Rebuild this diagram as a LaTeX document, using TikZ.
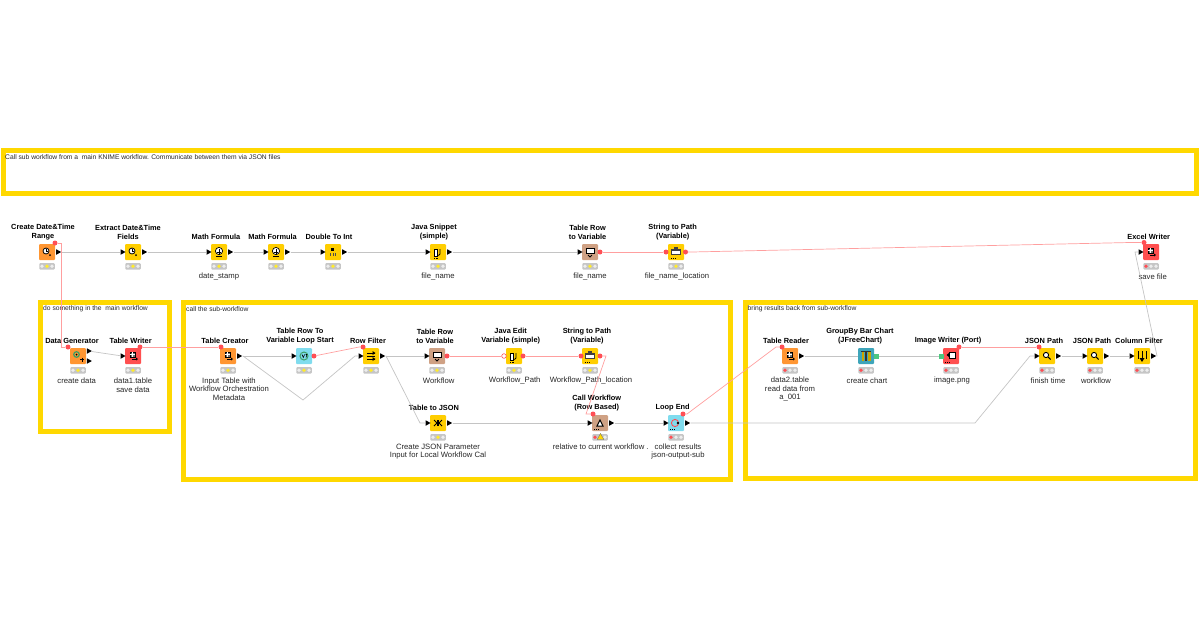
\documentclass[tikz,border=0pt]{standalone}
\usepackage{fontspec}
\setmainfont{Liberation Sans}
\usetikzlibrary{shapes.geometric}
\definecolor{bandcol}{HTML}{FFD800}
\definecolor{srccol}{HTML}{FF9632}
\definecolor{mancol}{HTML}{FFCE00}
\definecolor{sinkcol}{HTML}{FF4F4F}
\definecolor{loopcol}{HTML}{80DCEE}
\definecolor{vizcol}{HTML}{3EA5BA}
\definecolor{flowcol}{HTML}{CFA184}
\definecolor{varcol}{HTML}{FF4F55}
\definecolor{varline}{HTML}{FF9F9F}
\definecolor{wireline}{HTML}{C4C4C4}
\definecolor{lampbar}{HTML}{C6C6C6}
\definecolor{lampoff}{HTML}{EDEDED}
\definecolor{lampyel}{HTML}{FFEB2E}
\definecolor{imgport}{HTML}{4DC77F}
\tikzset{
  band/.style={draw=bandcol,line width=4.6pt,fill=none},
  bandtext/.style={anchor=west,inner sep=0pt,font=\fontsize{6.7}{8}\selectfont,text=black!85},
  kn/.style={minimum size=16pt,inner sep=0pt,rounded corners=1pt},
  src/.style={kn,fill=srccol},
  man/.style={kn,fill=mancol},
  sink/.style={kn,fill=sinkcol},
  lp/.style={kn,fill=loopcol},
  viz/.style={kn,fill=vizcol},
  flw/.style={kn,fill=flowcol},
  title/.style={align=center,inner sep=0pt,font=\fontsize{7.4}{9}\selectfont\bfseries,text=black},
  sub/.style={align=center,inner sep=0pt,font=\fontsize{7.7}{8.7}\selectfont,text=black!85},
  wire/.style={draw=wireline,line width=.7pt},
  varw/.style={draw=varline,line width=.7pt},
  tri/.style={isosceles triangle,isosceles triangle stretches,shape border rotate=0,fill=black,minimum width=5.5pt,minimum height=5pt,inner sep=0pt},
  vport/.style={circle,fill=varcol,minimum size=5pt,inner sep=0pt},
  vopen/.style={circle,draw=varcol,fill=white,line width=.6pt,minimum size=4.6pt,inner sep=0pt},
  iport/.style={fill=imgport,minimum size=5pt,inner sep=0pt},
  lamp/.style={fill=lampbar,minimum width=15.5pt,minimum height=6.4pt,inner sep=0pt,rounded corners=1pt},
  dot/.style={circle,minimum size=3.8pt,inner sep=0pt},
  pics/gmag/.style={code={
    \draw[line width=.9pt,fill=white] (-1,-1) circle (2.6);
    \draw[line width=1pt] (1,1) -- (3.6,3.4);}},
  pics/gclock/.style={code={
    \draw[line width=.8pt,fill=white] (-1,-1) circle (3);
    \draw[line width=.5pt] (-1,-3) -- (-1,-1) -- (.5,-1);
    \fill[black] (3,3) circle (1);}},
  pics/gtbl/.style={code={
    \draw[line width=.5pt,fill=black!55] (-3,-4) rectangle (2,1);
    \draw[white,line width=.4pt] (-.5,-4) -- (-.5,1) (-3,-1.5) -- (2,-1.5);
    \draw[line width=.9pt] (-1,3) -- (3.5,3);
    \fill (3,1.5) -- (5,3) -- (3,4.5) -- cycle;}},
  pics/gform/.style={code={
    \draw[line width=.7pt,fill=white] (0,-1) circle (3.6);
    \draw[line width=.9pt] (-2,0) -- (2,0) (0,-3) -- (0,3);
    \draw[line width=.7pt] (-3,4) -- (3,4);}},
  pics/gbars/.style={code={
    \foreach \yy in {-3,0,3} \draw[line width=.9pt] (-4,\yy) -- (3.5,\yy);
    \fill (1.5,-5) -- (4.5,-3) -- (1.5,-1) -- cycle;
    \fill (1.5,1) -- (4.5,3) -- (1.5,5) -- cycle;}},
  pics/gcode/.style={code={
    \draw[line width=.6pt,fill=white] (-4,-3) rectangle (-.5,4);
    \draw[line width=.9pt] (2,-3) -- (2,2) -- (.5,3.5);
    \foreach \xx in {-4,-2.5,-1} \fill (\xx,5.5) rectangle ++(.8,.8);}},
  pics/gvar/.style={code={
    \draw[line width=.7pt,fill=white] (-4,-4) rectangle (4,1);
    \draw[line width=.8pt] (-2,3) -- (0,5) -- (2,3);}},
  pics/gpath/.style={code={
    \fill[black!75] (-5,-3) rectangle (5,3);
    \fill[white] (-4,-1) rectangle (4,2);
    \fill[black!75] (-2,-5) rectangle (2,-3);
    \foreach \xx in {-5,-3,-1} \fill (\xx,5.5) rectangle ++(1,1);}},
  pics/gdbl/.style={code={
    \fill (-2,-4.5) rectangle (1,-1);
    \fill[black!70] (-3,1) rectangle (-2,4);
    \fill[black!70] (-.5,1) rectangle (.5,4);
    \fill[black!70] (2,1) rectangle (3,4);}},
  pics/gjson/.style={code={
    \draw[line width=1pt] (-4,-3) -- (-1,0) -- (-4,3) (4,-3) -- (1,0) -- (4,3);
    \fill (-1,-3) rectangle (1,3);}},
  pics/gloop/.style={code={
    \draw[varcol,line width=.9pt] (-1,0) circle (3.6);
    \fill (2,0) circle (1.4);
    \foreach \xx in {-6,-4,-2} \fill (\xx,5.5) rectangle ++(1,1);}},
  pics/gstart/.style={code={
    \draw[imgport!80!black,line width=1pt] (0,0) circle (4);
    \draw[line width=.6pt] (-2,-1.5) -- (-.7,1.5) -- (.6,-1.5) (1.5,-1.5) -- (3,-1.5) -- (2,1.5);}},
  pics/ggen/.style={code={
    \draw[imgport!80!black,line width=1.2pt] (-1.5,-1.5) circle (2.8);
    \fill (-1.5,-1.5) circle (1);
    \draw[line width=.9pt] (2,3.5) -- (6,3.5) (4,1.5) -- (4,5.5);}},
  pics/gcall/.style={code={
    \draw[line width=1pt,fill=white] (-3,3) -- (0,-3) -- (3,3) -- cycle;
    \foreach \xx in {-6,-4,-2} \fill (\xx,5.5) rectangle ++(1,1);}},
  pics/gchart/.style={code={
    \fill[black!80] (-5,-5) rectangle (5,-4);
    \fill[mancol!80!black] (-4.5,-4) rectangle (-2,5);
    \fill[black!80] (-1.2,-4) rectangle (1.2,5);
    \fill[mancol!80!black] (2,-4) rectangle (4.5,5);}},
  pics/gimg/.style={code={
    \draw[line width=.7pt,fill=white] (-2,-4) rectangle (4,2);
    \fill (-4.5,-1) -- (-2,-3) -- (-2,1) -- cycle;
    \foreach \xx in {-6,-4,-2} \fill (\xx,5.5) rectangle ++(1,1);}},
  pics/gfilter/.style={code={
    \draw[line width=.8pt] (-4,-5) -- (-4,3) (0,-5) -- (0,5) (4,-5) -- (4,3);
    \fill (-2.5,2) -- (2.5,2) -- (0,6) -- cycle;}},
}
\begin{document}
\begin{tikzpicture}[x=1pt,y=-1pt]
  \useasboundingbox (0,0) rectangle (1200,630);
  % annotations
  \node[band,minimum width=1193.5pt,minimum height=42.5pt,inner sep=0pt] (bandtop) at (600,172) {};
  \node[band,minimum width=129pt,minimum height=129pt,inner sep=0pt] (bandmain) at (105,367) {};
  \node[band,minimum width=547pt,minimum height=177pt,inner sep=0pt] (bandcall) at (457.2,391) {};
  \node[band,minimum width=450pt,minimum height=176pt,inner sep=0pt] (bandback) at (970.5,390.5) {};
  \node[bandtext] (texttop) at (5,157) {Call sub workflow from a\ \ main KNIME workflow. Communicate between them via JSON files};
  \node[bandtext] (textmain) at (43,309) {do something in the\ \ main workflow};
  \node[bandtext] (textcall) at (186,309) {call the sub-workflow};
  \node[bandtext] (textback) at (747.5,309) {bring results back from sub-workflow};

  % top row
  \node[src] (cdr) at (47,252) {};
  \node[man] (edf) at (133,252) {};
  \node[man] (mfa) at (219,252) {};
  \node[man] (mfb) at (276,252) {};
  \node[man] (dti) at (333,252) {};
  \node[man] (jsn) at (438,252) {};
  \node[flw] (trv) at (590,252) {};
  \node[man] (spf) at (676,252) {};
  \node[sink] (xlw) at (1151,252) {};
  % main workflow
  \node[src] (dgn) at (78,356) {};
  \node[sink] (twr) at (133,356) {};
  % sub-workflow
  \node[src] (tcr) at (228,356) {};
  \node[lp] (lps) at (304,356) {};
  \node[man] (rfl) at (371,356) {};
  \node[flw] (trw) at (437,356) {};
  \node[man] (jev) at (514,356) {};
  \node[man] (spw) at (590,356) {};
  \node[man] (tjs) at (438,423) {};
  \node[flw] (cwf) at (600,423) {};
  \node[lp] (lpe) at (676,423) {};
  % results
  \node[src] (trd) at (790,356) {};
  \node[viz] (gbc) at (866,356) {};
  \node[sink] (iwr) at (951,356) {};
  \node[man] (jpa) at (1047,356) {};
  \node[man] (jpb) at (1095,356) {};
  \node[man] (cfl) at (1142,356) {};

  % icons
  \pic at (cdr) {gclock};
  \pic at (edf) {gclock};
  \pic at (mfa) {gform};
  \pic at (mfb) {gform};
  \pic at (dti) {gdbl};
  \pic at (jsn) {gcode};
  \pic at (trv) {gvar};
  \pic at (spf) {gpath};
  \pic at (xlw) {gtbl};
  \pic at (dgn) {ggen};
  \pic at (twr) {gtbl};
  \pic at (tcr) {gtbl};
  \pic at (lps) {gstart};
  \pic at (rfl) {gbars};
  \pic at (trw) {gvar};
  \pic at (jev) {gcode};
  \pic at (spw) {gpath};
  \pic at (tjs) {gjson};
  \pic at (cwf) {gcall};
  \pic at (lpe) {gloop};
  \pic at (trd) {gtbl};
  \pic at (gbc) {gchart};
  \pic at (iwr) {gimg};
  \pic at (jpa) {gmag};
  \pic at (jpb) {gmag};
  \pic at (cfl) {gfilter};

  % titles
  \node[title] (tcdr) at (43,232.5) {Create Date\&Time\\Range};
  \node[title] (tedf) at (128,232.5) {Extract Date\&Time\\Fields};
  \node[title] (tmfa) at (216,237) {Math Formula};
  \node[title] (tmfb) at (272.6,237) {Math Formula};
  \node[title] (tdti) at (329,237) {Double To Int};
  \node[title] (tjsn) at (434,232.5) {Java Snippet\\(simple)};
  \node[title] (ttrv) at (587.6,232.5) {Table Row\\to Variable};
  \node[title] (tspf) at (672.7,232.5) {String to Path\\(Variable)};
  \node[title] (txlw) at (1148.7,237) {Excel Writer};
  \node[title] (tdgn) at (72,341) {Data Generator};
  \node[title] (ttwr) at (130.6,341) {Table Writer};
  \node[title] (ttcr) at (225,341) {Table Creator};
  \node[title] (tlps) at (300,336.5) {Table Row To\\Variable Loop Start};
  \node[title] (trfl) at (368,341) {Row Filter};
  \node[title] (ttrw) at (435,336.5) {Table Row\\to Variable};
  \node[title] (tjev) at (510.7,336.5) {Java Edit\\Variable (simple)};
  \node[title] (tspw) at (587,336.5) {String to Path\\(Variable)};
  \node[title] (ttjs) at (434,408) {Table to JSON};
  \node[title] (tcwf) at (596.7,403.5) {Call Workflow\\(Row Based)};
  \node[title] (tlpe) at (672.7,408) {Loop End};
  \node[title] (ttrd) at (786,341) {Table Reader};
  \node[title] (tgbc) at (860,336.5) {GroupBy Bar Chart\\(JFreeChart)};
  \node[title] (tiwr) at (948,341) {Image Writer (Port)};
  \node[title] (tjpa) at (1044,341) {JSON Path};
  \node[title] (tjpb) at (1092,341) {JSON Path};
  \node[title] (tcfl) at (1139,341) {Column Filter};

  % comments under the nodes
  \node[sub] (smfa) at (219,276.5) {date\_stamp};
  \node[sub] (sjsn) at (438,276.5) {file\_name};
  \node[sub] (strv) at (590,276.5) {file\_name};
  \node[sub] (sspf) at (677,276.5) {file\_name\_location};
  \node[sub] (sxlw) at (1152.7,276.5) {save file};
  \node[sub] (sdgn) at (76.7,380.5) {create data};
  \node[sub] (stwr) at (133,385) {data1.table\\save data};
  \node[sub] (stcr) at (229,389) {Input Table with\\Workflow Orchestration\\Metadata};
  \node[sub] (strw) at (438.7,380.5) {Workflow};
  \node[sub] (sjev) at (514.7,380.5) {Workflow\_Path};
  \node[sub] (sspw) at (591,380.5) {Workflow\_Path\_location};
  \node[sub] (stjs) at (438,451.5) {Create JSON Parameter\\Input for Local Workflow Cal};
  \node[sub] (scwf) at (600.7,447) {relative to current workflow .};
  \node[sub] (slpe) at (678,451.5) {collect results\\json-output-sub};
  \node[sub] (strd) at (790,389) {data2.table\\read data from\\a\_001};
  \node[sub] (sgbc) at (867,380.5) {create chart};
  \node[sub] (siwr) at (952,380.5) {image.png};
  \node[sub] (sjpa) at (1048,380.5) {finish time};
  \node[sub] (sjpb) at (1096,380.5) {workflow};

  % ports
  \foreach \n in {edf,mfa,mfb,dti,jsn,trv,xlw,twr,lps,rfl,trw,tjs,cwf,lpe,jpa,jpb,cfl}
    \node[tri] (\n-in) at ([xshift=-2.6pt]\n.west) {};
  \foreach \n in {cdr,edf,mfa,mfb,dti,jsn,tcr,rfl,tjs,cwf,lpe,trd,jpa,jpb,cfl}
    \node[tri] (\n-out) at ([xshift=2.6pt]\n.east) {};
  \node[tri] (dgn-outa) at (88.5,351) {};
  \node[tri] (dgn-outb) at (88.5,361) {};
  \node[vport] (cdr-v) at (55,243) {};
  \node[vport] (dgn-v) at (68,347) {};
  \node[vport] (twr-v) at (140,347) {};
  \node[vport] (tcr-v) at (221,347) {};
  \node[vport] (lps-v) at (314,356) {};
  \node[vport] (rfl-v) at (363,347) {};
  \node[vport] (trv-v) at (600,252) {};
  \node[vport] (spf-vi) at (666,252) {};
  \node[vport] (spf-vo) at (685.5,252) {};
  \node[vport] (xlw-v) at (1144,242.5) {};
  \node[vport] (trw-v) at (447,356) {};
  \node[vopen] (jev-vi) at (504,356) {};
  \node[vport] (jev-vo) at (523,356) {};
  \node[vport] (spw-vi) at (581,356) {};
  \node[vport] (spw-vo) at (600,356) {};
  \node[vport] (cwf-v) at (593,414) {};
  \node[vport] (lpe-v) at (683,414) {};
  \node[vport] (trd-v) at (782,347) {};
  \node[vport] (iwr-v) at (959,347) {};
  \node[vport] (jpa-v) at (1039,347) {};
  \node[iport] (gbc-out) at (876.5,356) {};
  \node[iport] (iwr-in) at (941.5,356) {};

  % bends
  \coordinate (cdrdown) at (61,243);
  \coordinate (dgnup) at (61,347);
  \coordinate (rflbend) at (359,347);
  \coordinate (spwa) at (606,356);
  \coordinate (spwb) at (586,414);
  \coordinate (lpea) at (687,414);
  \coordinate (trdb) at (776,347);
  \coordinate (spfa) at (692,252);
  \coordinate (xlwb) at (1130,242.5);
  \coordinate (tcra) at (243,356);
  \coordinate (tcrb) at (303,400);
  \coordinate (rflb) at (355,356);
  \coordinate (rfla) at (386,356);
  \coordinate (tjsb) at (420,423);
  \coordinate (lpea2) at (975,423);
  \coordinate (jpab) at (1030,356);
  \coordinate (cfla) at (1157,356);
  \coordinate (xlwa) at (1135,252);

  % data connections
  \draw[wire] (cdr-out) -- (edf-in);
  \draw[wire] (edf-out) -- (mfa-in);
  \draw[wire] (mfa-out) -- (mfb-in);
  \draw[wire] (mfb-out) -- (dti-in);
  \draw[wire] (dti-out) -- (jsn-in);
  \draw[wire] (jsn-out) -- (trv-in);
  \draw[wire] (dgn-outa) -- (twr-in);
  \draw[wire] (tcr-out) -- (lps-in);
  \draw[wire] (tcr-out) -- (tcra) -- (tcrb) -- (rflb) -- (rfl-in);
  \draw[wire] (rfl-out) -- (trw-in);
  \draw[wire] (rfl-out) -- (rfla) -- (tjsb) -- (tjs-in);
  \draw[wire] (tjs-out) -- (cwf-in);
  \draw[wire] (cwf-out) -- (lpe-in);
  \draw[wire] (lpe-out) -- (lpea2) -- (jpab) -- (jpa-in);
  \draw[wire] (trd-out) -- (gbc);
  \draw[wire] (gbc-out) -- (iwr-in);
  \draw[wire] (jpa-out) -- (jpb-in);
  \draw[wire] (jpb-out) -- (cfl-in);
  \draw[wire] (cfl-out) -- (cfla) -- (xlwa) -- (xlw-in);

  % variable connections
  \draw[varw] (cdr-v) -- (cdrdown) -- (dgnup) -- (dgn-v);
  \draw[varw] (twr-v) -- (tcr-v);
  \draw[varw] (lps-v) -- (rflbend) -- (rfl-v);
  \draw[varw] (trv-v) -- (spf-vi);
  \draw[varw] (spf-vo) -- (spfa) -- (xlwb) -- (xlw-v);
  \draw[varw] (trw-v) -- (jev-vi);
  \draw[varw] (jev-vo) -- (spw-vi);
  \draw[varw] (spw-vo) -- (spwa) -- (spwb) -- (cwf-v);
  \draw[varw] (lpe-v) -- (lpea) -- (trdb) -- (trd-v);
  \draw[varw] (iwr-v) -- (jpa-v);

  % status lights
  \foreach \lst/\ca/\cb in {{cdr,edf,mfa,mfb,dti,jsn,trv,spf,dgn,twr,tcr,lps,rfl,trw,jev,spw,tjs}/lampoff/lampyel,{xlw,cwf,lpe,trd,gbc,iwr,jpa,jpb,cfl}/varcol/lampoff}
    \foreach \n in \lst {
      \node[lamp] (\n-st) at ([yshift=-14.3pt]\n.center) {};
      \node[dot,fill=\ca] (\n-sa) at ([xshift=-5pt]\n-st.center) {};
      \node[dot,fill=\cb] (\n-sb) at (\n-st.center) {};
      \node[dot,fill=lampoff] (\n-sc) at ([xshift=5pt]\n-st.center) {};
    };
  % warning sign
  \node[isosceles triangle,isosceles triangle stretches,shape border rotate=90,fill=bandcol,draw=black!60,line width=.3pt,minimum width=6.5pt,minimum height=6pt,inner sep=0pt] (cwf-warn) at (600.5,437.5) {};
\end{tikzpicture}
\end{document}
